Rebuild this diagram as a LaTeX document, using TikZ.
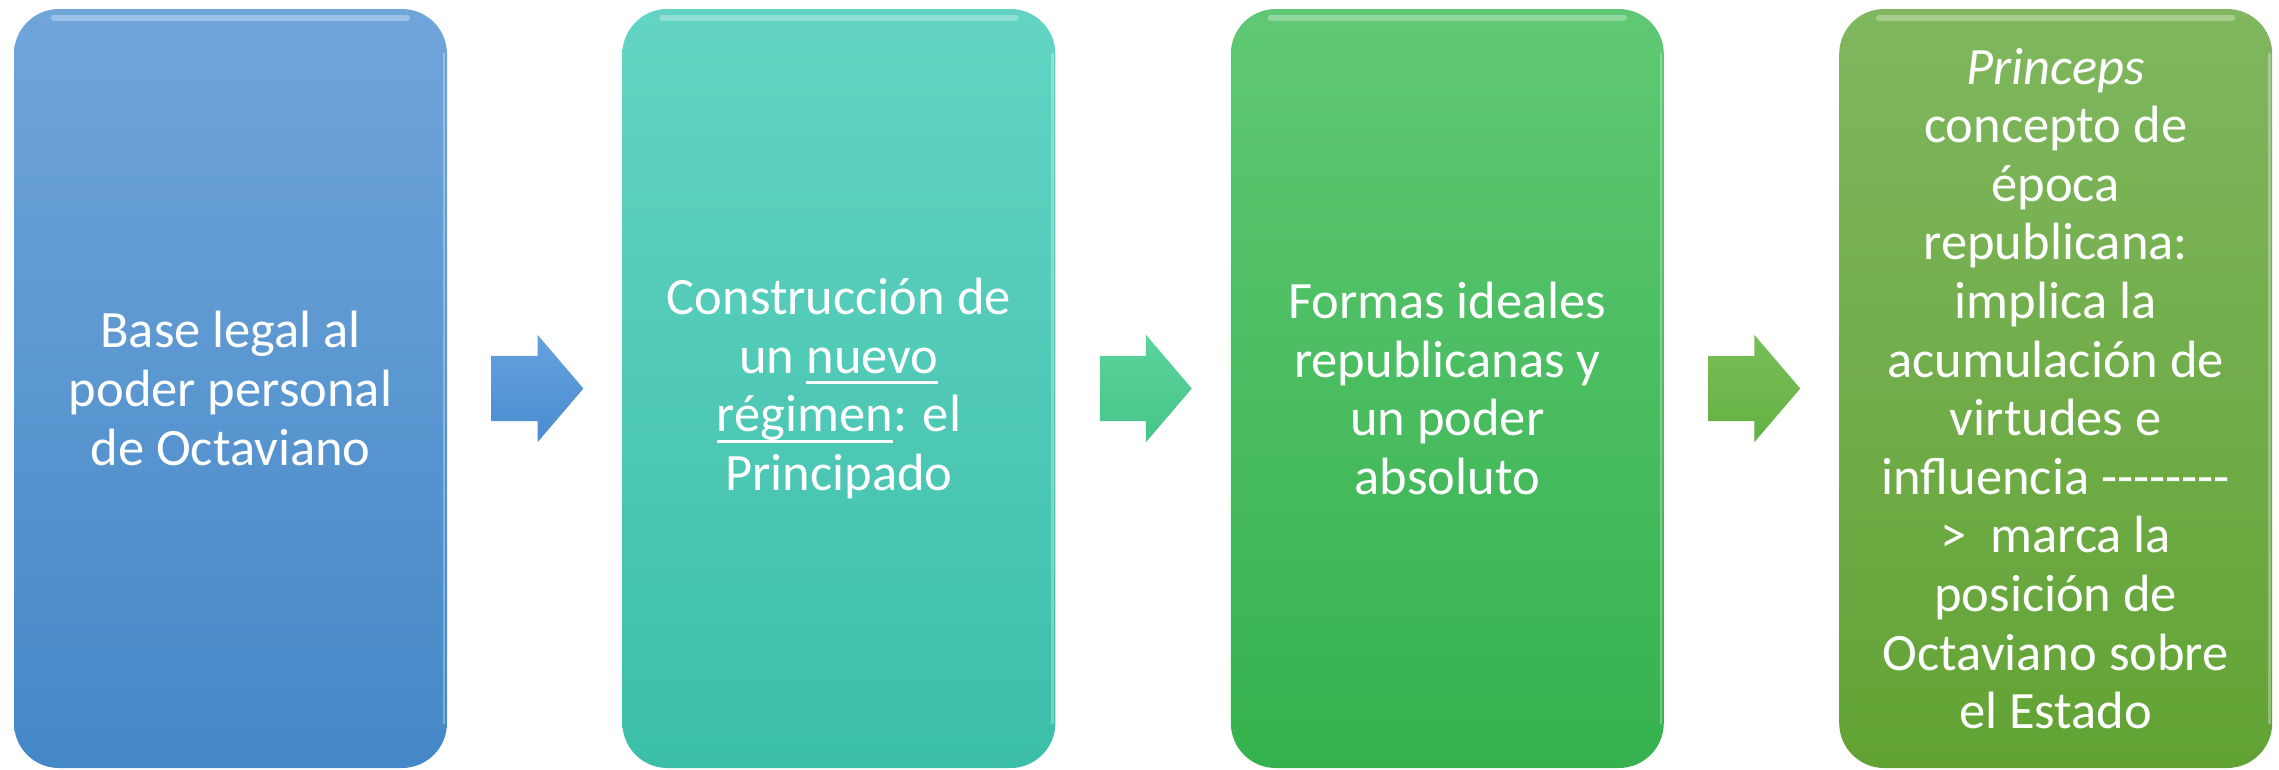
\documentclass[tikz,border=0pt]{standalone}
\usepackage{fontspec}
\setmainfont{Carlito}
\usetikzlibrary{positioning,shapes.arrows,calc}

\definecolor{azulA}{HTML}{70A5DA}
\definecolor{azulB}{HTML}{4588C7}
\definecolor{turqA}{HTML}{63D4C3}
\definecolor{turqB}{HTML}{3CBFA9}
\definecolor{verdeA}{HTML}{60C874}
\definecolor{verdeB}{HTML}{35B24E}
\definecolor{olivaA}{HTML}{80B75F}
\definecolor{olivaB}{HTML}{62A334}

% underline at a fixed depth
\newcommand{\subrayar}[1]{\setbox0=\hbox{#1}\rlap{\rule[-11pt]{\wd0}{3pt}}\box0}

\tikzset{
  caja/.style={rectangle, rounded corners=45pt, minimum width=433pt, minimum height=759pt,
    inner sep=0pt, align=center, text=white, font=\fontsize{52.5}{58.6}\selectfont},
  flecha/.style={single arrow, single arrow head extend=21pt, single arrow tip angle=99,
    minimum height=92pt, inner xsep=0pt, inner ysep=32.5pt, anchor=west},
  brillo/.style={white, opacity=0.3, line width=6pt, line cap=round}
}

\begin{document}
\begin{tikzpicture}[x=1pt,y=-1pt]
    \useasboundingbox (0,0) rectangle (2279,769);
    \node [caja, top color=azulA, bottom color=azulB] (b1) at (230.5,388.5)
        {Base legal al\\ poder personal\\ de Octaviano};
    \node [caja, top color=turqA, bottom color=turqB, right=175pt of b1] (b2)
        {Construcción de\\ un \subrayar{nuevo}\\ \subrayar{régimen}: el\\ Principado};
    \node [caja, top color=verdeA, bottom color=verdeB, right=175pt of b2] (b3)
        {Formas ideales\\ republicanas y\\ un poder\\ absoluto};
    \node [caja, top color=olivaA, bottom color=olivaB, right=175pt of b3] (b4)
        {\textit{Princeps}\\ concepto de\\ época\\ republicana:\\ implica la\\ acumulación de\\ virtudes e\\
         influencia -\kern0pt-\kern0pt-\kern0pt-\kern0pt-\kern0pt-\kern0pt-\kern0pt-\\
         >~ marca la\\ posición de\\ Octaviano sobre\\ el Estado};
    \foreach \n in {b1,b2,b3,b4} {
        \draw [brillo] ([xshift=40pt,yshift=-9pt]\n.north west) -- ([xshift=-40pt,yshift=-9pt]\n.north east);
        \draw [brillo, line width=2.5pt] ([xshift=-3pt,yshift=-45pt]\n.north east) -- ([xshift=-3pt,yshift=45pt]\n.south east);
    }
    \foreach \a/\ca/\cb/\f in {b1/64A2DD/4A8CD0/f1,b2/5CD39B/45C589/f2,b3/77BF57/65B143/f3} {
        \definecolor{fa}{HTML}{\ca}
        \definecolor{fb}{HTML}{\cb}
        \node [flecha, top color=fa, bottom color=fb] (\f) at ([xshift=44pt]\a.east) {};
    }
\end{tikzpicture}
\end{document}
